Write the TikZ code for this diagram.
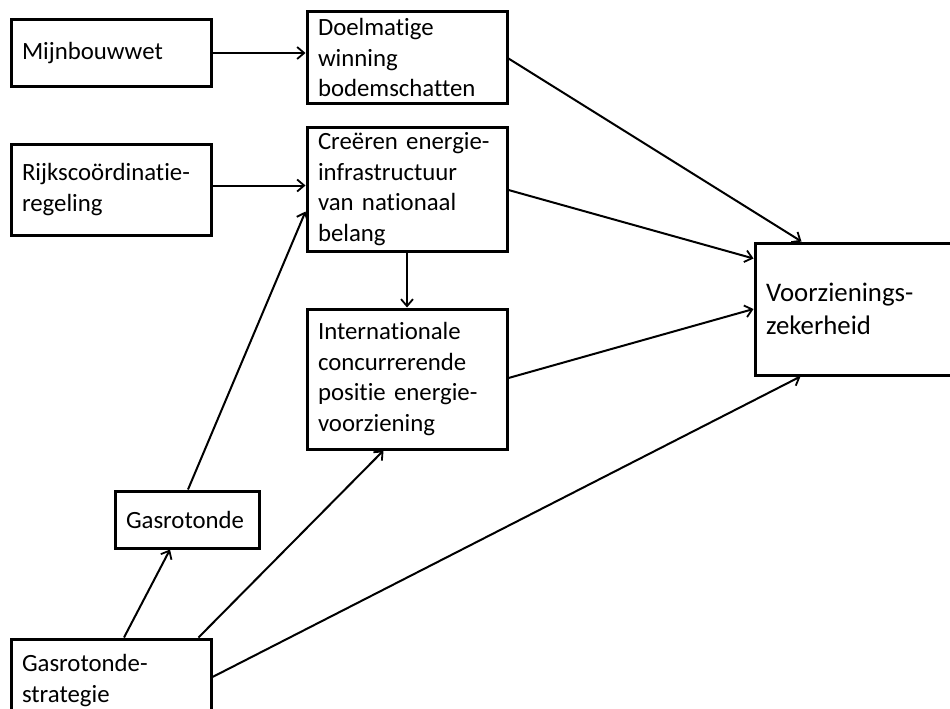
\documentclass[tikz,border=0pt]{standalone}
\usepackage{fontspec}
\setmainfont{Carlito}[Ligatures={NoCommon}]
\usetikzlibrary{arrows.meta}
\begin{document}
\begin{tikzpicture}[x=1pt,y=-1pt,
  box/.style={draw,line width=3pt,fill=white,align=left,inner xsep=11pt,inner ysep=0pt,
    font=\fontsize{24.8}{30.5}\selectfont,anchor=center},
  w200/.style={minimum width=200pt,text width=178pt},
  conn/.style={line width=2pt,-{Straight Barb[length=7pt,width=12pt,line width=1.8pt]}}]
\useasboundingbox (0,0) rectangle (950,709);
\clip (0,0) rectangle (950,709);
\fill[white] (0,0) rectangle (950,709);
\node[box,w200,minimum height=66pt] (mijn) at (111,53) {Mijnbouwwet};
\node[box,w200,minimum height=91pt] (doel) at (407,57.5) {Doelmatige\\winning\\bodemschatten};
\node[box,w200,minimum height=91pt] (rijks) at (111,189.5) {Rijkscoördinatie-\\regeling};
\node[box,w200,minimum height=124pt] (creer) at (407,189) {Creëren energie-\\infrastructuur\\van nationaal\\belang};
\node[box,w200,minimum height=140pt] (intl) at (407,379) {Internationale\\concurrerende\\positie energie-\\voorziening};
\node[box,w200,minimum height=132pt,font=\fontsize{26.8}{33}\selectfont] (voorz) at (855,309) {Voorzienings-\\zekerheid};
\node[box,minimum width=144pt,text width=122pt,minimum height=57pt] (gasr) at (187,519.5) {Gasrotonde};
\node[box,w200,minimum height=83pt] (gstrat) at (111,680.5) {Gasrotonde-\\strategie};
\draw[conn] (mijn.east) -- (mijn.east -| doel.west);
\draw[conn] ([yshift=4pt]rijks.east) -- ([yshift=4pt]rijks.east -| creer.west);
\draw[conn] ([xshift=1pt]gasr.north) -- ([yshift=-86pt]creer.north west);
\draw[conn] (creer.south) -- (intl.north);
\draw[conn] ([yshift=-1pt]doel.east) -- ([xshift=48pt]voorz.north west);
\draw[conn] ([yshift=-1pt]creer.east) -- ([yshift=-17pt]voorz.north west);
\draw[conn] ([yshift=1pt]intl.east) -- (voorz.west);
\draw[conn] ([yshift=3.5pt]gstrat.east) -- ([xshift=47pt]voorz.south west);
\draw[conn] ([xshift=-14pt]gstrat.north east) -- ([xshift=78pt]intl.south west);
\draw[conn] ([xshift=13pt]gstrat.north) -- ([xshift=-17pt]gasr.south);
\end{tikzpicture}
\end{document}
